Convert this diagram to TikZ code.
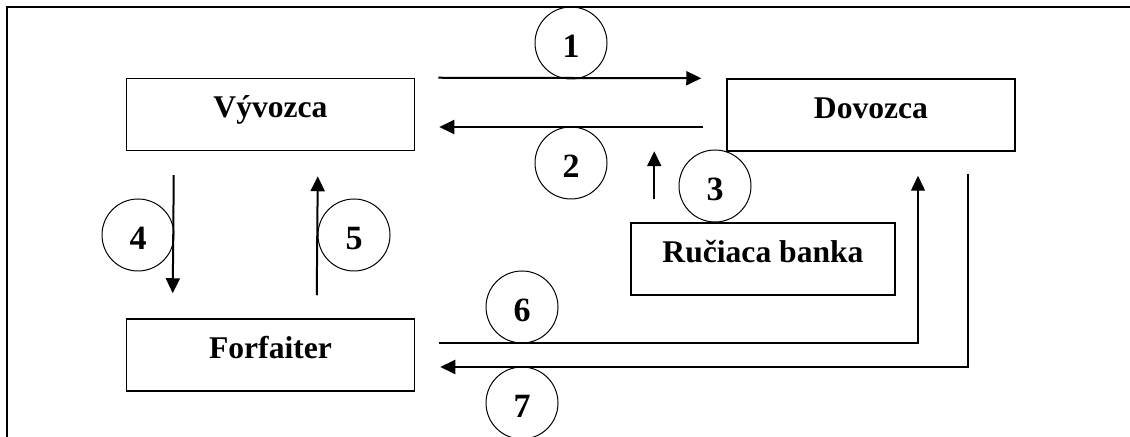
\documentclass[tikz,border=0pt]{standalone}
\usepackage{fontspec}
\setmainfont{Liberation Serif}
\usetikzlibrary{calc,arrows.meta}

\begin{document}
\begin{tikzpicture}[x=0.5pt,y=-0.5pt,
    party/.style={draw,line width=0.75pt,minimum width=144pt,minimum height=36pt,
      inner sep=0pt,font=\fontsize{15.8}{18}\selectfont\bfseries,
      text height=11pt,text depth=7.5pt},
    num/.style={draw,circle,line width=0.5pt,minimum size=36pt,inner sep=0pt,
      font=\fontsize{17}{19}\selectfont\bfseries,text height=15pt,text depth=0pt},
    flow/.style={line width=1pt,-{Triangle[length=7.5pt,width=7pt]}}]
      \useasboundingbox (0,0) rectangle (1130,437);
      \draw[line width=1pt] (7,437) -- (7,7) -- (1130,7);
      \node[party] (vyv) at (270.5,114.5) {Vývozca};
      \node[party] (dov) at (871,115) {Dovozca};
      \node[party,minimum width=132pt] (ruc) at (763,259) {Ručiaca banka};
      \node[party] (forf) at (270.5,355) {Forfaiter};
      \foreach \n/\x/\y in {1/571/43,2/571/163,3/715/186,4/138/235,5/354/235,6/522/307,7/522/403}
      \node[num] (c\n) at (\x,\y) {\n};
      \draw[flow] ($(vyv.north east)+(23,0)$) -- ($(dov.north west)+(-25,0)$);
      \draw[flow] ($(dov.west)+(-23,12)$) -- ($(vyv.east)+(24,12.5)$);
      \draw[flow] ($(ruc.north west)+(24,-23)$) -- ++(0,-48);
      \draw[flow] ($(vyv.south west)+(48,24)$) -- ($(forf.north west)+(47,-25)$);
      \draw[flow] ($(forf.north west)+(191,-23)$) -- ($(vyv.south west)+(192,25)$);
      \draw[flow,line width=0.7pt] ($(forf.east)+(24,-12)$) -| ($(dov.south)+(47,24)$);
      \draw[flow] ($(dov.south east)+(-48,22)$) |- ($(forf.east)+(25,12)$);
\end{tikzpicture}
\end{document}
